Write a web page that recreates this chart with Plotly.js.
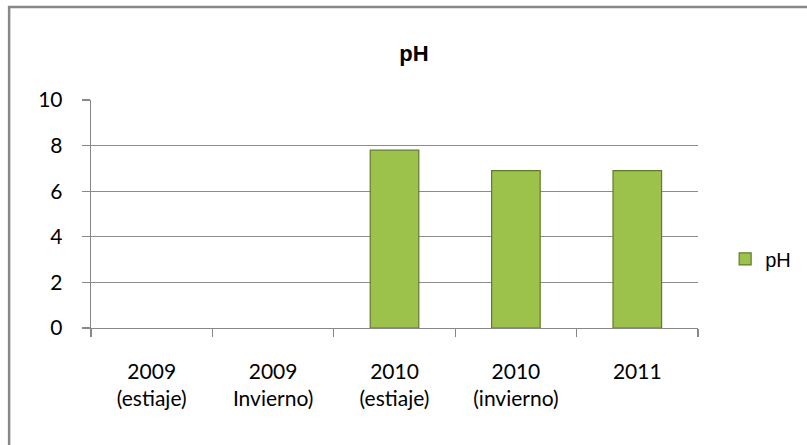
<!DOCTYPE html>
<html>
<head>
<meta charset="utf-8">
<script src="https://cdn.plot.ly/plotly-3.0.1.min.js"></script>
<style>
  html, body { margin: 0; padding: 0; background: #fff; }
  #chart { width: 807px; height: 445px; }
</style>
</head>
<body>
<div id="chart"></div>
<script>
const categories = ["2009<br>(estiaje)", "2009<br>Invierno)", "2010<br>(estiaje)", "2010<br>(invierno)", "2011"];
const phValues = [null, null, 7.8, 6.9, 6.9];
const yTicks = [0, 2, 4, 6, 8, 10];
const seriesName = "pH";
const chartTitle = "pH";

const tickFont = { family: "Lato, Carlito, Calibri, sans-serif", size: 21, color: "#000" };
const arialFont = "Liberation Sans, Arial, sans-serif";

const trace = {
  type: "bar",
  x: categories,
  y: phValues,
  name: seriesName,
  width: 0.4,
  marker: { color: "#9CC24C", line: { color: "#5F7B2C", width: 1.2 } },
  showlegend: true,
  hoverinfo: "x+y"
};

const layout = {
  width: 807,
  height: 445,
  margin: { l: 91, r: 108, t: 100, b: 117 },
  paper_bgcolor: "#fff",
  plot_bgcolor: "#fff",
  title: {
    text: "<b>" + chartTitle + "</b>",
    font: { family: arialFont, size: 22, color: "#000" },
    x: 0.513, xref: "container", xanchor: "center",
    y: 0.88, yref: "container", yanchor: "middle"
  },
  xaxis: {
    type: "category",
    showline: true, linecolor: "#888", linewidth: 1.3,
    ticks: "outside", ticklen: 8, tickcolor: "#888", tickwidth: 1.3,
    tickson: "boundaries",
    showgrid: false,
    tickfont: tickFont,
    ticklabelstandoff: 24,
    fixedrange: true
  },
  yaxis: {
    range: [0, 10],
    tickvals: yTicks,
    showline: true, linecolor: "#888", linewidth: 1.3,
    ticks: "outside", ticklen: 8, tickcolor: "#888", tickwidth: 1.3,
    showgrid: true, gridcolor: "#8c8c8c", gridwidth: 1.3,
    zeroline: false,
    tickfont: tickFont,
    ticklabelstandoff: 15,
    fixedrange: true
  },
  legend: {
    x: 1.043, xanchor: "left",
    y: 0.303, yanchor: "middle",
    font: { family: arialFont, size: 20, color: "#000" },
    bgcolor: "rgba(0,0,0,0)",
    itemwidth: 30
  },
  shapes: [
    {
      type: "path", xref: "paper", yref: "paper",
      path: "M -0.1349,-0.6 L -0.1349,1.408 L 1.4,1.408",
      line: { color: "#888", width: 2.5 }
    }
  ],
  bargap: 0.6
};

Plotly.newPlot("chart", [trace], layout, { displayModeBar: false, staticPlot: true });
</script>
</body>
</html>
